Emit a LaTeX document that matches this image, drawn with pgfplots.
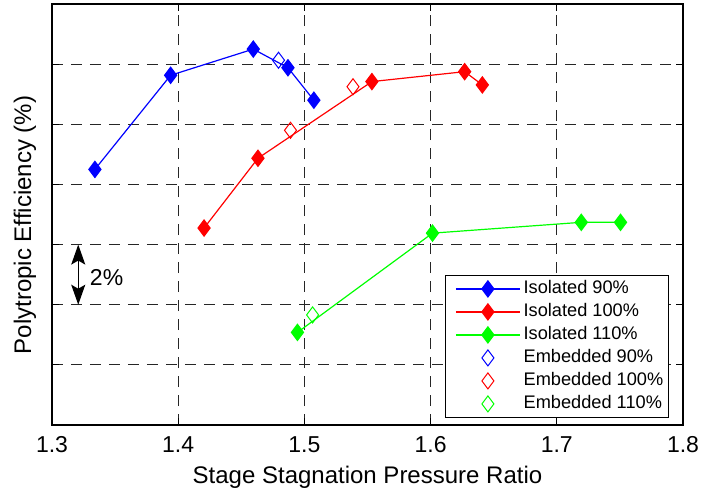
\documentclass[border=0pt]{standalone}
\usepackage{fontspec}
\setmainfont{Liberation Sans}
\usepackage{pgfplots}
\pgfplotsset{compat=1.18}
\usetikzlibrary{arrows.meta}

\begin{document}
\begin{tikzpicture}
\begin{axis}[
    at={(0,0)}, anchor=south west,
    scale only axis, width=315.5pt, height=210.5pt,
    xmin=1.3, xmax=1.8, ymin=0, ymax=14,
    xtick={1.3,1.4,1.5,1.6,1.7,1.8},
    xticklabels={1.3,1.4,1.5,1.6,1.7,1.8},
    ytick={0,2,4,6,8,10,12,14}, yticklabels={},
    xticklabel style={font=\fontsize{11.5}{13}\selectfont, yshift=-2.3pt},
    grid=major,
    major grid style={black!85, dash pattern=on 5.5pt off 4pt, line width=0.5pt},
    tick align=inside, major tick length=3.5pt,
    tick style={black, line width=0.6pt},
    axis line style={line width=0.75pt},
    xlabel={Stage Stagnation Pressure Ratio},
    ylabel={Polytropic Efficiency (\%)},
    label style={font=\fontsize{12}{14}\selectfont},
    xlabel style={at={(axis description cs:0.5,-0.1378)}, anchor=base},
    ylabel style={at={(axis description cs:-0.0428,0.475)}, anchor=center},
    legend cell align=left,
    legend image code/.code={
        \path[draw=none, fill=none] (-4pt,0pt) rectangle (32pt,0pt);
        \draw[mark repeat=2,mark phase=2] plot coordinates {(0pt,0pt) (16pt,0pt) (32pt,0pt)};
    },
    legend style={at={(axis description cs:0.978,0.0166)}, anchor=south east,
        draw=black, line width=0.6pt, font=\fontsize{9.1}{11}\selectfont,
        row sep=0pt, inner sep=1pt,
        nodes={inner sep=1.6pt, text height=6.6pt, text depth=1.7pt}},
]
\addplot[blue, line width=0.6pt, mark=diamond*, mark size=4pt] coordinates {
 (1.334,8.50) (1.394,11.63) (1.4595,12.50) (1.487,11.88) (1.5075,10.80)
};
\addlegendentry{Isolated 90\%}
\addplot[red, line width=0.6pt, mark=diamond*, mark size=4pt] coordinates {
 (1.4205,6.55) (1.4632,8.87) (1.5535,11.42) (1.627,11.75) (1.641,11.31)
};
\addlegendentry{Isolated 100\%}
\addplot[green, line width=0.6pt, mark=diamond*, mark size=4pt] coordinates {
 (1.4945,3.08) (1.6015,6.38) (1.7194,6.74) (1.7505,6.74)
};
\addlegendentry{Isolated 110\%}
\addplot[blue, only marks, mark=diamond, mark size=4pt, mark options={line width=0.5pt}] coordinates {
 (1.4795,12.13)
};
\addlegendentry{Embedded 90\%}
\addplot[red, only marks, mark=diamond, mark size=4pt, mark options={line width=0.5pt}] coordinates {
 (1.489,9.80) (1.5385,11.25)
};
\addlegendentry{Embedded 100\%}
\addplot[green, only marks, mark=diamond, mark size=4pt, mark options={line width=0.5pt}] coordinates {
 (1.5065,3.66)
};
\addlegendentry{Embedded 110\%}
% 2% scale arrow
\draw[{Stealth[length=10pt,width=7pt,inset=2pt]}-{Stealth[length=10pt,width=7pt,inset=2pt]}, line width=0.6pt]
    (axis cs:1.3208,4) -- (axis cs:1.3208,6);
\node[anchor=west, font=\fontsize{11.5}{13}\selectfont] at (axis cs:1.3245,4.89) {2\%};
\end{axis}
\pgfresetboundingbox
\path[use as bounding box] (-26pt,-31.5pt) rectangle (327.5pt,212.5pt);
\end{tikzpicture}
\end{document}
